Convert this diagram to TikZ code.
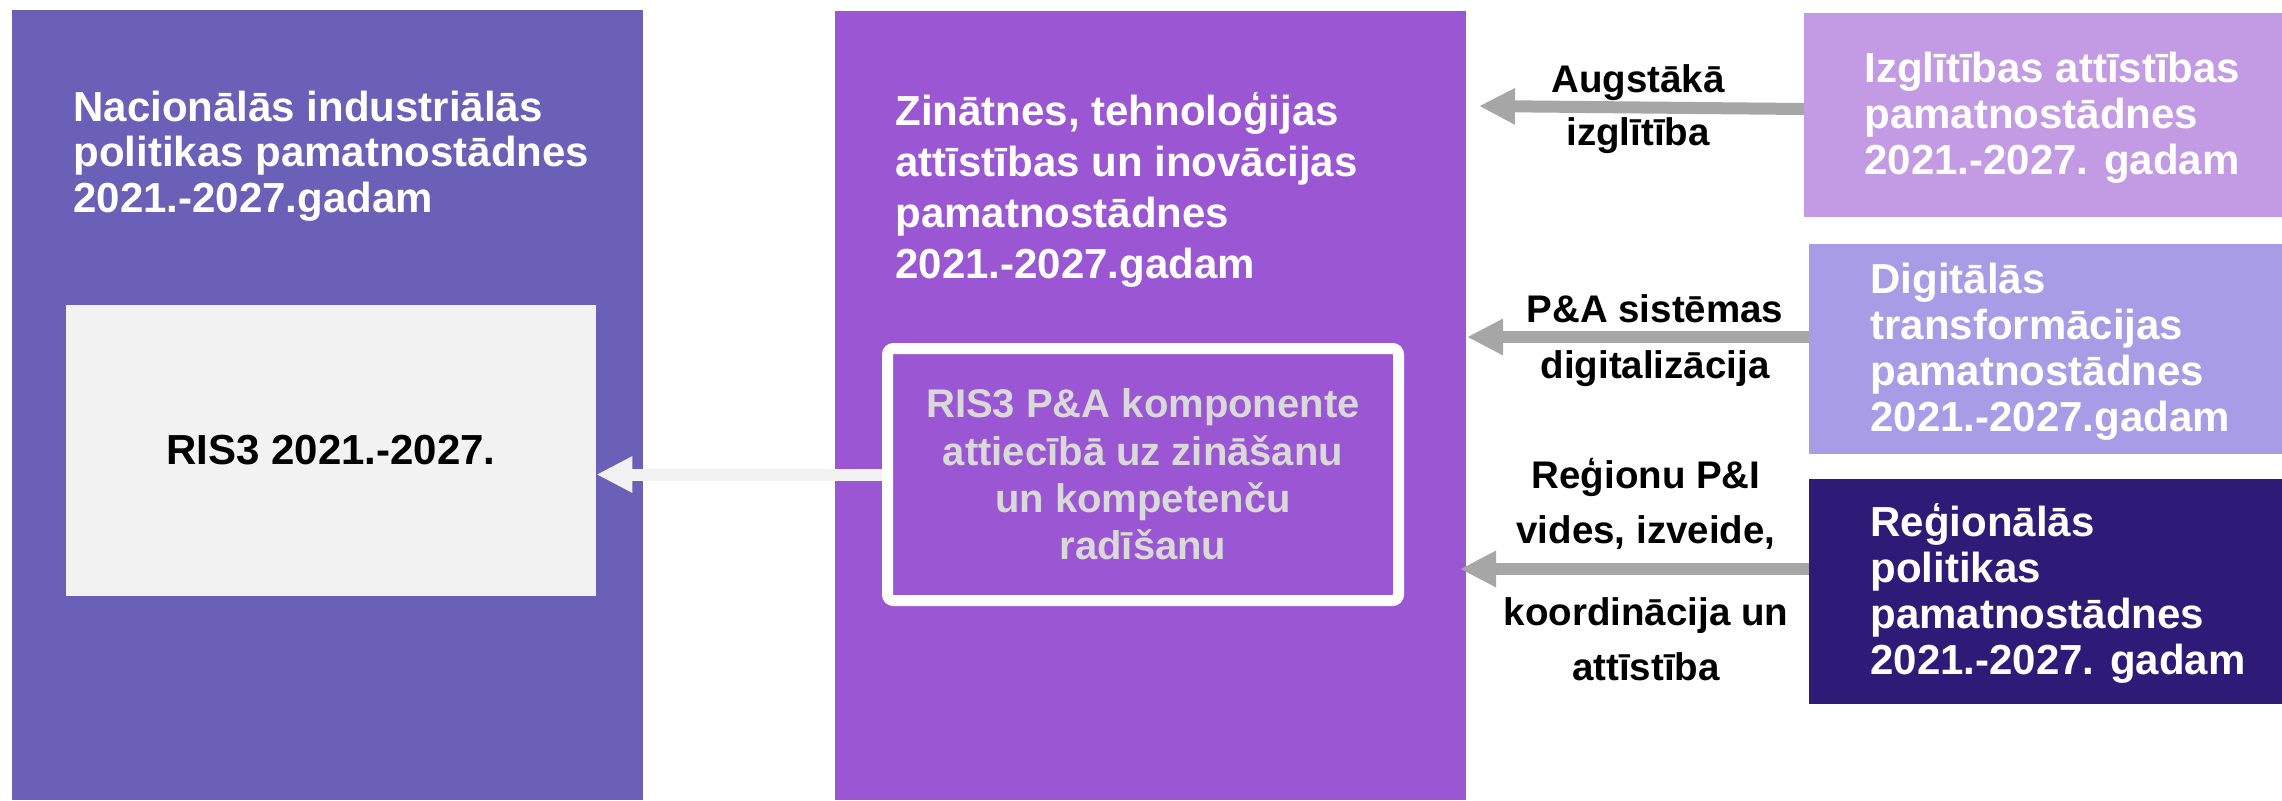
\documentclass[tikz,border=0pt]{standalone}
\usepackage{fontspec}
\setmainfont{Liberation Sans}
\usetikzlibrary{arrows.meta}
\definecolor{leftc}{HTML}{6A60B8}
\definecolor{midc}{HTML}{9B57D3}
\definecolor{izgc}{HTML}{C39BE5}
\definecolor{digc}{HTML}{A99CE7}
\definecolor{regc}{HTML}{2E1B78}
\definecolor{arrowgray}{HTML}{A6A6A6}
\definecolor{risc}{HTML}{F2F2F2}
\definecolor{innertext}{HTML}{D9D9D9}
\begin{document}
\begin{tikzpicture}[x=0.5pt,y=-0.5pt,
  panel/.style={inner sep=0pt, outer sep=0pt, draw=none, anchor=north west},
  ttl/.style={inner sep=0pt, anchor=north west, align=left, text=white, font=\fontsize{21}{23}\selectfont\bfseries},
  garrow/.style={draw=arrowgray, line width=6pt, -{Triangle[length=18pt,width=17pt]}},
  warrow/.style={draw=risc, line width=6pt, -{Triangle[length=18pt,width=17pt]}},
  lbl/.style={inner sep=0pt, anchor=north, align=center, text=black, font=\fontsize{19.25}{27.5}\selectfont\bfseries}
]
\useasboundingbox (0,0) rectangle (2282,800);
\fill[white] (0,0) rectangle (2282,800);

% big panels
\node[panel, fill=leftc, minimum width=315.5pt, minimum height=395pt] (nat) at (12,10) {};
\node[panel, fill=midc, minimum width=315.5pt, minimum height=394.5pt] (zin) at (835,11) {};
\node[panel, fill=izgc, minimum width=239pt, minimum height=102pt] (izg) at (1804,13) {};
\node[panel, fill=digc, minimum width=236.5pt, minimum height=105pt] (dig) at (1809,244) {};
\node[panel, fill=regc, minimum width=236.5pt, minimum height=112.5pt] (reg) at (1809,479) {};

% titles
\node[ttl, font=\fontsize{21}{22.75}\selectfont\bfseries] (natt) at (73,79) {\rule{0pt}{1em}Nacionālās industriālās\\politikas pamatnostādnes\\2021.-2027.gadam};
\node[ttl, font=\fontsize{21}{25.5}\selectfont\bfseries] (zint) at (895,83) {\rule{0pt}{1em}Zinātnes, tehnoloģijas\\attīstības un inovācijas\\pamatnostādnes\\2021.-2027.gadam};
\node[ttl] (izgt) at (1864,40) {\rule{0pt}{1em}Izglītības attīstības\\pamatnostādnes\\2021.-2027. gadam};
\node[ttl] (digt) at (1870,251) {\rule{0pt}{1em}Digitālās\\transformācijas\\pamatnostādnes\\2021.-2027.gadam};
\node[ttl] (regt) at (1870,494) {\rule{0pt}{1em}Reģionālās\\politikas\\pamatnostādnes\\2021.-2027. gadam};

% RIS3 box
\node[fill=risc, inner sep=0pt, minimum width=265pt, minimum height=145.5pt, font=\fontsize{21}{23}\selectfont\bfseries, text=black] (ris) at (331,450.5) {RIS3 2021.-2027.};

% inner box
\node[draw=white, line width=5.5pt, rounded corners=3pt, fill=midc, inner sep=0pt,
  minimum width=255.5pt, minimum height=126pt, align=center, text=innertext,
  font=\fontsize{20}{23.67}\selectfont\bfseries] (inner) at (1143,474.5)
  {RIS3 P\&A komponente\\attiecībā uz zināšanu\\un kompetenču\\radīšanu};

% connector inner -> RIS3
\draw[warrow] (inner.west) -- (inner.west -| ris.east);

% gray arrows
\coordinate (t1) at (1479,106);
\coordinate (t2) at (1467,337);
\coordinate (t3) at (1460,569);
\draw[garrow] (izg.west) ++(0,-6) -- (t1);
\draw[garrow] (dig.west |- t2) -- (t2);
\draw[garrow] (reg.west |- t3) -- (t3);

% arrow labels
\node[lbl, font=\fontsize{19.25}{26.5}\selectfont\bfseries] (l1) at (1638,53.5) {\rule{0pt}{1em}Augstākā\\izglītība};
\node[lbl, font=\fontsize{19.25}{28}\selectfont\bfseries] (l2) at (1655,283.5) {\rule{0pt}{1em}P\&A sistēmas\\digitalizācija};
\node[lbl] (l3) at (1646,449.5) {\rule{0pt}{1em}Reģionu P\&I\\vides, izveide,\\[13.5pt]koordinācija un\\attīstība};
\end{tikzpicture}
\end{document}
